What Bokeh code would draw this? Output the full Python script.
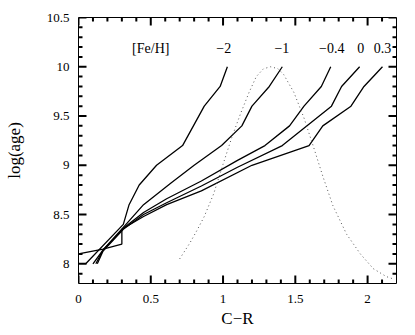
from bokeh.plotting import figure
from bokeh.models import LinearAxis, Range1d, FixedTicker, CustomJSTickFormatter, ColumnDataSource
from bokeh.embed import file_html
from bokeh.resources import INLINE
from bokeh.core.properties import value

# ---- data ----
cr_m2 = [0.05, 0.31, 0.35, 0.42, 0.54, 0.72, 0.87, 0.98, 1.03]
age_m2 = [8.0, 8.4, 8.6, 8.8, 9.0, 9.2, 9.6, 9.8, 10.0]

cr_m1 = [0.10, 0.17, 0.31, 0.45, 0.64, 0.80, 0.99, 1.13, 1.20, 1.32, 1.41]
age_m1 = [8.0, 8.14, 8.37, 8.6, 8.82, 9.0, 9.2, 9.4, 9.6, 9.8, 10.0]

cr_m04 = [0.12, 0.17, 0.31, 0.45, 0.61, 0.85, 1.10, 1.29, 1.46, 1.56, 1.68, 1.745]
age_m04 = [8.0, 8.14, 8.36, 8.52, 8.66, 8.84, 9.05, 9.2, 9.4, 9.6, 9.8, 10.0]

cr_0 = [0.13, 0.17, 0.31, 0.45, 0.61, 0.85, 1.10, 1.41, 1.75, 1.82, 1.945]
age_0 = [8.0, 8.13, 8.35, 8.5, 8.62, 8.79, 8.98, 9.2, 9.6, 9.8, 10.0]

cr_p03 = [0.0, 0.17, 0.30, 0.30, 0.45, 0.61, 0.85, 1.20, 1.595, 1.69, 1.885, 1.975, 2.103]
age_p03 = [8.1, 8.15, 8.2, 8.35, 8.48, 8.6, 8.74, 9.0, 9.2, 9.4, 9.6, 9.8, 10.0]

dist_x = [0.70, 0.77, 0.82, 0.87, 0.935, 1.00, 1.06, 1.12, 1.18, 1.23, 1.28,
          1.33, 1.38, 1.42, 1.49, 1.56, 1.625, 1.69, 1.76, 1.855, 1.95, 2.04,
          2.13, 2.17]
dist_y = [8.05, 8.21, 8.34, 8.48, 8.71, 9.01, 9.28, 9.52, 9.74, 9.90, 9.98,
          10.0, 9.98, 9.92, 9.74, 9.48, 9.19, 8.89, 8.59, 8.30, 8.10, 7.95,
          7.87, 7.85]

label_text = ["[Fe/H]", "\u22122", "\u22121", "\u22120.4", "0", "0.3"]
label_x = [0.50, 1.005, 1.407, 1.752, 1.952, 2.103]
label_y = [10.19, 10.19, 10.19, 10.19, 10.19, 10.19]

x_major = [0, 0.5, 1.0, 1.5, 2.0]
x_minor = [0.1, 0.2, 0.3, 0.4, 0.6, 0.7, 0.8, 0.9, 1.1, 1.2, 1.3, 1.4,
           1.6, 1.7, 1.8, 1.9, 2.1]
y_major = [8.0, 8.5, 9.0, 9.5, 10.0, 10.5]
y_minor = [7.9, 8.1, 8.2, 8.3, 8.4, 8.6, 8.7, 8.8, 8.9, 9.1, 9.2, 9.3, 9.4,
           9.6, 9.7, 9.8, 9.9, 10.1, 10.2, 10.3, 10.4]

x_title = "C\u2212R"
y_title = "log(age)"

X0, X1 = 0.0, 2.2
Y0, Y1 = 7.8, 10.5
SERIF = "Liberation Serif"

W, H = 410, 332
BL, BR, BT, BB = 78, 14, 17, 49
FW, FH = W - BL - BR, H - BT - BB       # frame size in px
PX = (X1 - X0) / FW                      # data units per px
PY = (Y1 - Y0) / FH

p = figure(width=W, height=H, x_range=Range1d(X0, X1), y_range=Range1d(Y0, Y1),
           output_backend="svg", toolbar_location=None,
           min_border_left=BL, min_border_right=BR, min_border_top=BT, min_border_bottom=BB)
p.xaxis.visible = False
p.yaxis.visible = False
p.grid.visible = False
p.outline_line_color = "black"
p.outline_line_width = 1
p.background_fill_color = "white"
p.border_fill_color = "white"

fmt = CustomJSTickFormatter(code="return String(Math.round(tick*10)/10)")


def style_axis(ax):
    ax.major_tick_in = 0
    ax.major_tick_out = 0
    ax.minor_tick_in = 0
    ax.minor_tick_out = 0
    ax.axis_line_color = None
    ax.major_label_text_font = SERIF
    ax.major_label_text_font_size = "13px"
    ax.major_label_text_color = "black"
    ax.axis_label_text_font = SERIF
    ax.axis_label_text_font_style = "normal"
    ax.axis_label_text_font_size = "17px"
    ax.axis_label_text_color = "black"


xb = LinearAxis(ticker=FixedTicker(ticks=x_major), formatter=fmt, axis_label=x_title)
style_axis(xb)
xb.major_label_standoff = 11
xb.axis_label_standoff = 3
p.add_layout(xb, "below")

yl = LinearAxis(ticker=FixedTicker(ticks=y_major), formatter=fmt, axis_label=y_title)
style_axis(yl)
yl.major_label_standoff = 9
yl.axis_label_standoff = 20
p.add_layout(yl, "left")

# inward ticks on all four sides (lengths in px converted to data units)
TICK_COLOR = "black"
TICK_W = 2
for ticks, ln in [(x_major, 8), (x_minor, 4)]:
    n = len(ticks)
    p.segment(x0=ticks, y0=[Y0] * n, x1=ticks, y1=[Y0 + ln * PY] * n,
              line_color=TICK_COLOR, line_width=TICK_W)
    p.segment(x0=ticks, y0=[Y1] * n, x1=ticks, y1=[Y1 - ln * PY] * n,
              line_color=TICK_COLOR, line_width=TICK_W)
for ticks, ln in [(y_major, 8), (y_minor, 4)]:
    p.multi_line(xs=[[X0, X0 + ln * PX] for t in ticks], ys=[[t, t] for t in ticks],
                 line_color=TICK_COLOR, line_width=TICK_W)
    p.multi_line(xs=[[X1, X1 - ln * PX] for t in ticks], ys=[[t, t] for t in ticks],
                 line_color=TICK_COLOR, line_width=TICK_W)

for xs, ys in [(cr_m2, age_m2), (cr_m1, age_m1), (cr_m04, age_m04), (cr_0, age_0), (cr_p03, age_p03)]:
    p.line(xs, ys, line_color="black", line_width=1.3)

p.line(dist_x, dist_y, line_color="#555555", line_width=1, line_dash="1 3")

src = ColumnDataSource(dict(x=label_x, y=label_y, t=label_text))
p.text(x="x", y="y", text="t", source=src, text_font=value(SERIF), text_font_size="14px",
       text_align="center", text_baseline="middle", text_color="black")

open("out.html", "w").write(file_html(p, INLINE))
